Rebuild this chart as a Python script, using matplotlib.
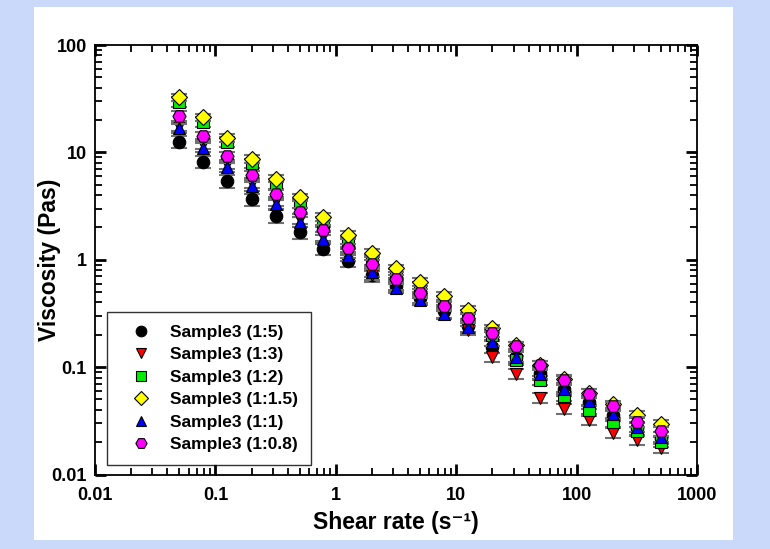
import matplotlib.pyplot as plt
from matplotlib.patches import Rectangle

plt.rcParams['font.family'] = ['Liberation Sans', 'DejaVu Sans']
plt.rcParams['font.weight'] = 'bold'

shear = [0.05, 0.079, 0.126, 0.2, 0.316, 0.5, 0.79, 1.26, 2.0, 3.16, 5.0,
         7.9, 12.6, 20.0, 31.6, 50.0, 79.0, 126.0, 200.0, 316.0, 500.0]

s_1_5 = [12.6, 8.2, 5.4, 3.65, 2.55, 1.80, 1.27, 0.98, 0.72, 0.57, 0.44,
         0.33, 0.24, 0.154, 0.125, 0.088, 0.062, 0.047, 0.036, 0.027, 0.022]
s_1_3 = [17.5, 12.0, 7.8, 5.2, 3.5, 2.4, 1.65, 1.15, 0.72, 0.58, 0.44,
         0.32, 0.22, 0.123, 0.087, 0.052, 0.041, 0.032, 0.0244, 0.0208, 0.0177]
s_1_2 = [29.6, 19.3, 12.6, 7.9, 5.1, 3.35, 2.25, 1.47, 1.0, 0.75, 0.56,
         0.42, 0.31, 0.2, 0.116, 0.0755, 0.0536, 0.0403, 0.0305, 0.0253, 0.0201]
s_1_15 = [32.6, 21.2, 13.7, 8.7, 5.7, 3.8, 2.5, 1.70, 1.16, 0.83, 0.62,
          0.46, 0.344, 0.23, 0.16, 0.105, 0.078, 0.058, 0.045, 0.0362, 0.0298]
s_1_1 = [16.7, 11.1, 7.25, 4.85, 3.3, 2.25, 1.55, 1.08, 0.77, 0.55, 0.42,
         0.31, 0.234, 0.173, 0.125, 0.087, 0.063, 0.048, 0.0364, 0.0275, 0.0225]
s_1_08 = [21.9, 14.2, 9.2, 6.1, 4.1, 2.76, 1.90, 1.28, 0.91, 0.655, 0.49,
          0.37, 0.284, 0.21, 0.157, 0.104, 0.0755, 0.0568, 0.043, 0.0311, 0.0253]

labels = ['Sample3 (1:5)', 'Sample3 (1:3)', 'Sample3 (1:2)',
          'Sample3 (1:1.5)', 'Sample3 (1:1)', 'Sample3 (1:0.8)']
rel_err = [0.13, 0.10, 0.10, 0.08, 0.10, 0.10]

series = [s_1_5, s_1_3, s_1_2, s_1_15, s_1_1, s_1_08]
colors = ['black', 'red', '#00ee00', 'yellow', 'blue', 'magenta']
markers = ['o', 'v', 's', 'D', '^', 'H']
sizes = [9, 9, 8, 8, 9, 9.5]

fig = plt.figure(figsize=(7.7, 5.49), dpi=100)
fig.patch.set_facecolor('#cad9fa')
fig.patches.append(Rectangle((34 / 770, 9 / 549), 699 / 770, 533 / 549,
                             transform=fig.transFigure, facecolor='white',
                             edgecolor='none', zorder=-5))
ax = fig.add_axes([95 / 770, 1 - 474.5 / 549, 602 / 770, 429.5 / 549])

for i, y in enumerate(series):
    err = [v * rel_err[i] for v in y]
    ax.errorbar(shear, y, yerr=err, fmt='none', ecolor='#707070',
                elinewidth=1.2, capsize=6, capthick=1.5, zorder=2 + i)
    ax.plot(shear, y, linestyle='none', marker=markers[i], color=colors[i],
            markeredgecolor='black', markeredgewidth=0.8,
            markersize=sizes[i], label=labels[i], zorder=2.5 + i)

ax.set_xscale('log')
ax.set_yscale('log')
ax.set_xlim(0.01, 1000)
ax.set_ylim(0.01, 100)
ax.set_xticks([0.01, 0.1, 1, 10, 100, 1000])
ax.set_xticklabels(['0.01', '0.1', '1', '10', '100', '1000'])
ax.set_yticks([0.01, 0.1, 1, 10, 100])
ax.set_yticklabels(['0.01', '0.1', '1', '10', '100'])

ax.tick_params(which='both', direction='in', top=True, right=True)
ax.tick_params(which='major', length=8, width=2, labelsize=13)
ax.tick_params(axis='x', which='major', pad=9)
ax.tick_params(axis='y', which='major', pad=6)
ax.tick_params(which='minor', length=5, width=1.3)
for sp in ax.spines.values():
    sp.set_linewidth(1.3)

ax.set_xlabel('Shear rate (s\u207b\u00b9)', fontsize=16.5, fontweight='bold', labelpad=5)
ax.set_ylabel('Viscosity (Pas)', fontsize=16.5, fontweight='bold')
ax.yaxis.set_label_coords(-0.057, 0.5)

leg = ax.legend(loc='lower left', bbox_to_anchor=(0.02, 0.022), fontsize=12.5,
                frameon=True, fancybox=False, edgecolor='black',
                borderaxespad=0, labelspacing=0.42, borderpad=0.75,
                handletextpad=0.5, handlelength=2.4, markerscale=0.85)
leg.get_frame().set_linewidth(1.0)

fig.savefig('out.png', dpi=100, facecolor=fig.get_facecolor())
